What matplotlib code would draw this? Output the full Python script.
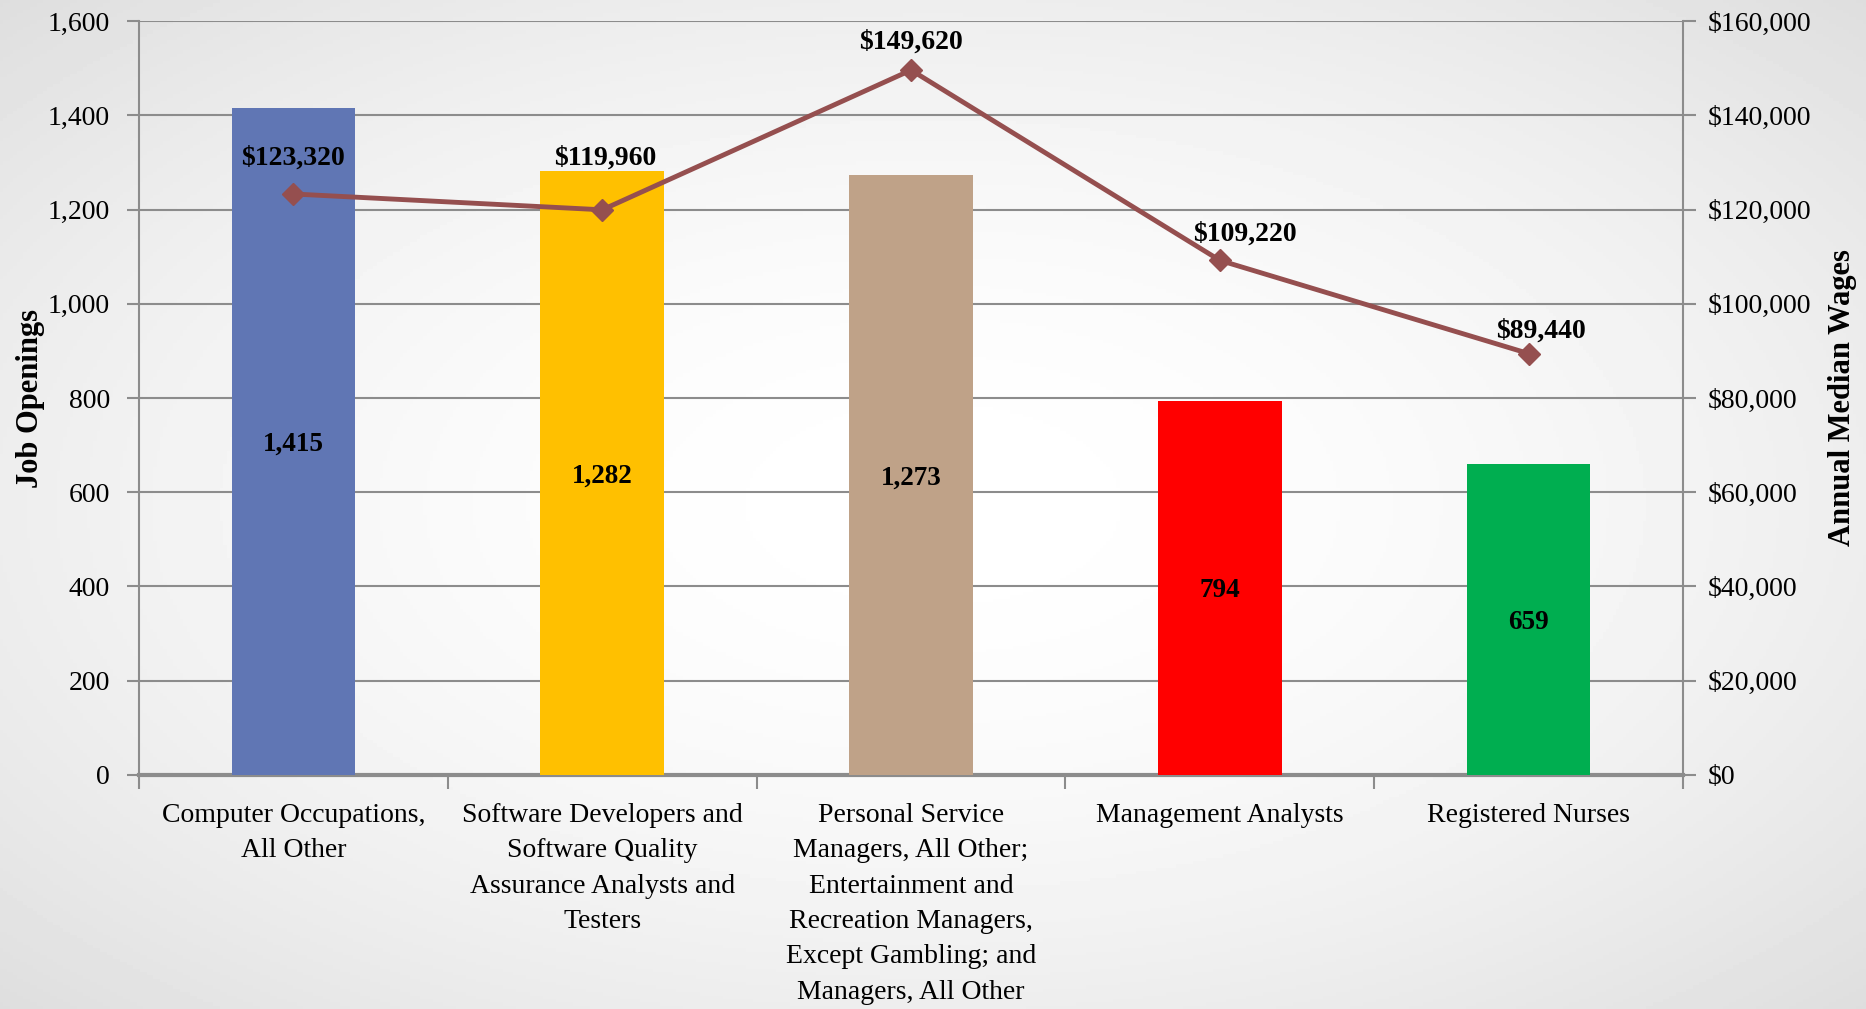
import numpy as np
import matplotlib.pyplot as plt
from matplotlib.ticker import FuncFormatter, MultipleLocator

categories = [
    "Computer Occupations,\nAll Other",
    "Software Developers and\nSoftware Quality\nAssurance Analysts and\nTesters",
    "Personal Service\nManagers, All Other;\nEntertainment and\nRecreation Managers,\nExcept Gambling; and\nManagers, All Other",
    "Management Analysts",
    "Registered Nurses",
]
job_openings = [1415, 1282, 1273, 794, 659]
median_wages = [123320, 119960, 149620, 109220, 89440]
bar_colors = ["#6076B4", "#FFC000", "#BFA288", "#FF0000", "#00AE50"]

plt.rcParams['font.family'] = ['Liberation Serif', 'DejaVu Serif']

fig = plt.figure(figsize=(18.66, 10.09), dpi=100)

# radialer Hintergrund, weiss in der Mitte, grau am Rand
bg = fig.add_axes([0, 0, 1, 1], zorder=-10)
yy, xx = np.mgrid[-1:1:300j, -1:1:560j]
r = np.sqrt(xx**2 + yy**2) / np.sqrt(2)
shade = 1.0 - 0.13 * np.clip(r, 0, 1) ** 1.8
bg.imshow(shade, cmap='gray', vmin=0, vmax=1, aspect='auto', extent=[0, 1, 0, 1])
bg.axis('off')

ax = fig.add_axes([0.0745, 0.232, 0.8275, 0.747])
ax.patch.set_alpha(0)
x = np.arange(len(categories))
bars = ax.bar(x, job_openings, width=0.4, color=bar_colors, zorder=3)
ax.set_xlim(-0.5, len(categories) - 0.5)
ax.set_ylim(0, 1600)
ax.yaxis.set_major_locator(MultipleLocator(200))
ax.yaxis.set_major_formatter(FuncFormatter(lambda v, p: f"{v:,.0f}"))
ax.grid(axis='y', color='#8C8C8C', lw=1.5, zorder=0)
ax.tick_params(axis='y', length=9, width=1.5, color='#8C8C8C', labelsize=20, pad=12)
ax.spines['top'].set_visible(False)
for s in ['left', 'right', 'bottom']:
    ax.spines[s].set_color('#8C8C8C')
ax.spines['left'].set_linewidth(1.5)
ax.spines['right'].set_linewidth(1.5)
ax.spines['bottom'].set_linewidth(3)

ax.set_xticks(np.arange(-0.5, len(categories)))
ax.set_xticklabels([])
ax.tick_params(axis='x', length=10, width=1.5, color='#8C8C8C')
ax.set_xticks(x, minor=True)
ax.set_xticklabels(categories, minor=True, fontsize=20, linespacing=1.55)
ax.tick_params(axis='x', which='minor', length=0, pad=20)
ax.set_ylabel("Job Openings", fontsize=22, fontweight='bold', labelpad=2)

for b, v in zip(bars, job_openings):
    ax.text(b.get_x() + b.get_width() / 2, v / 2, f"{v:,}", ha='center', va='center_baseline',
            fontsize=19.5, fontweight='bold', zorder=5)

ax2 = ax.twinx()
ax2.set_ylim(0, 160000)
ax2.yaxis.set_major_locator(MultipleLocator(20000))
ax2.yaxis.set_major_formatter(FuncFormatter(lambda v, p: f"${v:,.0f}"))
ax2.tick_params(axis='y', length=9, width=1.5, color='#8C8C8C', labelsize=20, pad=9)
for s in ax2.spines.values():
    s.set_visible(False)
ax2.plot(x, median_wages, color='#954F4F', lw=3.5, marker='D', ms=11, zorder=4)
ax2.set_ylabel("Annual Median Wages", fontsize=22, fontweight='bold', labelpad=12)

# Label-Versatz in Punkten (dx, dy)
offsets = [(0, 26), (2, 37), (0, 20), (18, 19), (9, 16)]
for xi, w, (dx, dy) in zip(x, median_wages, offsets):
    ax2.annotate(f"${w:,}", (xi, w), xytext=(dx, dy), textcoords='offset points',
                 ha='center', va='center', fontsize=20, fontweight='bold')

fig.savefig("out.png", dpi=100)
